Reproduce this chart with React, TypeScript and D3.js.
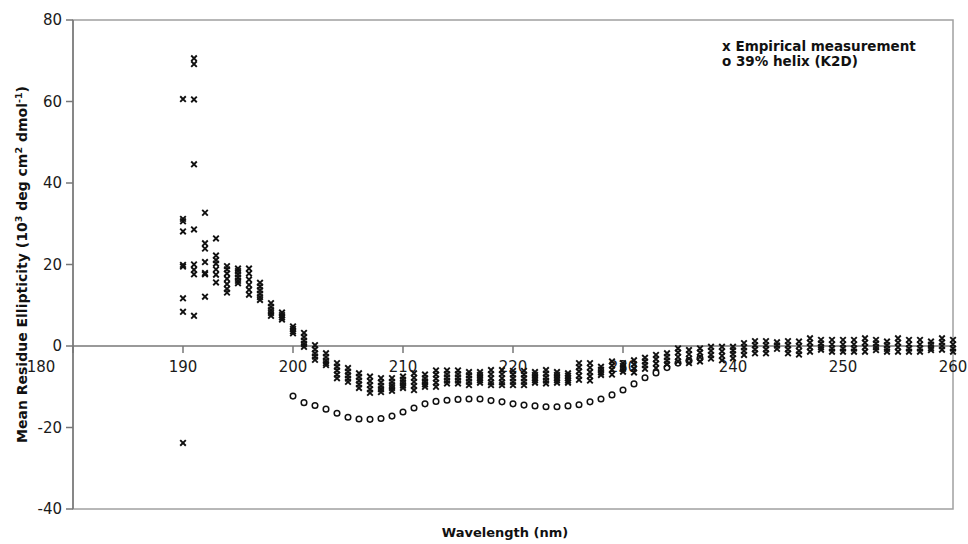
import React from 'react';
import * as d3 from 'd3';

// empirical CD scans: wavelength (nm) -> replicate readings (10^3 deg cm2 dmol-1)
const empirical: [number, number[]][] = [
  [190, [60.6, 31.2, 30.6, 28.1, 19.9, 19.5, 11.7, 8.4, -23.8]],
  [191, [70.6, 69.2, 60.5, 44.6, 28.6, 20.0, 18.7, 17.6, 7.4]],
  [192, [32.7, 25.2, 23.9, 20.6, 17.9, 17.6, 12.1]],
  [193, [26.4, 22.2, 21.1, 20.2, 18.8, 17.5, 15.6]],
  [194, [19.6, 18.8, 17.8, 16.5, 15.2, 14.0, 13.1]],
  [195, [19.0, 18.4, 17.6, 16.8, 16.0, 15.4]],
  [196, [19.0, 17.8, 16.3, 15.0, 13.8, 12.6]],
  [197, [15.5, 14.6, 13.7, 12.8, 12.0, 11.3]],
  [198, [10.5, 9.6, 8.8, 8.1, 7.4]],
  [199, [8.2, 7.6, 7.0, 6.5]],
  [200, [4.8, 4.2, 3.6, 3.1]],
  [201, [3.2, 2.2, 1.3, 0.5, -0.2]],
  [202, [0.2, -0.8, -1.8, -2.6, -3.4]],
  [203, [-1.8, -2.7, -3.6, -4.2, -4.7]],
  [204, [-4.2, -5.1, -6.0, -7.0, -7.9]],
  [205, [-5.4, -6.3, -7.2, -8.0, -8.8]],
  [206, [-6.7, -7.6, -8.5, -9.4, -10.3]],
  [207, [-7.5, -8.6, -9.6, -10.6, -11.5]],
  [208, [-7.9, -8.9, -9.8, -10.6, -11.3]],
  [209, [-7.9, -8.8, -9.6, -10.3, -11.0]],
  [210, [-7.5, -8.3, -9.0, -9.7, -10.3]],
  [211, [-6.7, -7.8, -8.8, -9.8, -10.8]],
  [212, [-7.0, -7.9, -8.7, -9.4, -10.0]],
  [213, [-6.0, -7.0, -8.0, -9.0, -10.0]],
  [214, [-6.0, -6.9, -7.7, -8.5, -9.2]],
  [215, [-6.0, -6.9, -7.7, -8.5, -9.2]],
  [216, [-6.4, -7.2, -8.0, -8.8, -9.6]],
  [217, [-6.4, -7.1, -7.8, -8.4, -9.0]],
  [218, [-5.9, -6.9, -7.9, -8.9, -9.6]],
  [219, [-5.9, -6.9, -7.9, -8.9, -9.6]],
  [220, [-6.1, -7.0, -7.9, -8.8, -9.6]],
  [221, [-6.1, -7.0, -7.9, -8.8, -9.6]],
  [222, [-6.4, -7.1, -7.8, -8.4, -9.0]],
  [223, [-5.9, -6.8, -7.7, -8.5, -9.2]],
  [224, [-6.4, -7.1, -7.8, -8.4, -9.0]],
  [225, [-6.7, -7.3, -7.9, -8.5, -9.0]],
  [226, [-4.2, -5.2, -6.2, -7.3, -8.3]],
  [227, [-4.2, -5.3, -6.4, -7.4, -8.5]],
  [228, [-5.1, -5.8, -6.5, -7.1]],
  [229, [-3.8, -4.8, -5.8, -7.0]],
  [230, [-4.2, -4.9, -5.6, -6.3]],
  [231, [-3.5, -4.5, -5.5, -6.5]],
  [232, [-2.9, -3.8, -4.7, -5.6]],
  [233, [-2.2, -3.2, -4.3, -5.4]],
  [234, [-1.8, -2.7, -3.6, -4.5]],
  [235, [-0.6, -1.6, -2.7, -3.8]],
  [236, [-1.0, -2.0, -3.1, -4.2]],
  [237, [-0.6, -1.6, -2.7, -3.8]],
  [238, [-0.2, -1.2, -2.2, -3.1]],
  [239, [-0.2, -1.3, -2.4, -3.5]],
  [240, [-0.2, -1.1, -2.0, -3.0]],
  [241, [0.7, -0.3, -1.2, -2.2]],
  [242, [1.2, 0.2, -0.8, -1.8]],
  [243, [1.2, 0.2, -0.8, -1.8]],
  [244, [0.9, 0.1, -0.7]],
  [245, [1.2, 0.2, -0.8, -1.8]],
  [246, [1.1, 0.0, -1.2, -2.1]],
  [247, [1.9, 0.8, -0.3, -1.4]],
  [248, [1.5, 0.6, -0.3, -0.9]],
  [249, [1.5, 0.4, -0.6, -1.4]],
  [250, [1.5, 0.4, -0.6, -1.4]],
  [251, [1.5, 0.4, -0.6, -1.4]],
  [252, [1.9, 0.8, -0.3, -1.4]],
  [253, [1.5, 0.6, -0.3, -1.0]],
  [254, [1.1, 0.2, -0.7, -1.4]],
  [255, [1.9, 0.8, -0.3, -1.4]],
  [256, [1.5, 0.4, -0.6, -1.4]],
  [257, [1.5, 0.4, -0.6, -1.4]],
  [258, [1.1, 0.3, -0.5, -1.0]],
  [259, [1.9, 0.9, 0.0, -0.9]],
  [260, [1.5, 0.4, -0.6, -1.4]],
];

// K2D fit, 39% helix
const helix: [number, number][] = [
  [200, -12.3], [201, -13.9], [202, -14.6], [203, -15.5], [204, -16.5],
  [205, -17.5], [206, -17.9], [207, -18.0], [208, -17.8], [209, -17.2],
  [210, -16.2], [211, -15.2], [212, -14.2], [213, -13.6], [214, -13.3],
  [215, -13.1], [216, -13.0], [217, -13.0], [218, -13.4], [219, -13.7],
  [220, -14.2], [221, -14.5], [222, -14.7], [223, -14.9], [224, -14.9],
  [225, -14.7], [226, -14.4], [227, -13.7], [228, -13.0], [229, -12.0],
  [230, -10.8], [231, -9.3], [232, -7.8], [233, -6.6], [234, -5.3],
  [235, -4.2], [236, -3.6], [237, -3.0],
];

const xTicks = [180, 190, 200, 210, 220, 230, 240, 250, 260];
const yTicks = [80, 60, 40, 20, 0, -20, -40];
const legendLabels = ['x Empirical measurement', 'o 39% helix (K2D)'];

const FONT = '"DejaVu Sans", Verdana, sans-serif';

const App: React.FC = () => {
  const left = 73, right = 953, top = 20, bottom = 509;
  const x = d3.scaleLinear().domain([180, 260]).range([left, right]);
  const y = d3.scaleLinear().domain([-40, 80]).range([bottom, top]);
  const y0 = y(0);

  const crosses = empirical.flatMap(([nm, vals]) => vals.map((v) => [nm, v] as [number, number]));

  return (
    <svg width={968} height={544} style={{ position: 'absolute', left: 0, top: 0, background: '#fff' }} fontFamily={FONT}>
      {/* plot frame */}
      <rect x={left} y={top} width={right - left} height={bottom - top} fill="none" stroke="#a0a0a0" strokeWidth={1.5} />
      <line x1={left} x2={left} y1={top} y2={bottom} stroke="#777" strokeWidth={1.5} />

      {/* y ticks */}
      {yTicks.map((t) => (
        <g key={t}>
          <line x1={left - 7} x2={left} y1={y(t)} y2={y(t)} stroke="#777" strokeWidth={1.5} />
          <text x={62} y={y(t)} dy="0.36em" textAnchor="end" fontSize={15} fill="#1a1a1a">{t}</text>
        </g>
      ))}

      {/* x axis at zero */}
      <line x1={left} x2={right} y1={y0} y2={y0} stroke="#777" strokeWidth={1.5} />
      {xTicks.map((t) => (
        <g key={t}>
          <line x1={x(t)} x2={x(t)} y1={y0} y2={y0 + 7} stroke="#777" strokeWidth={1.5} />
          <text x={t === 180 ? 41 : x(t)} y={y0 + 21} dy="0.36em" textAnchor="middle" fontSize={15} fill="#1a1a1a">{t}</text>
        </g>
      ))}

      {/* helix fit circles */}
      {helix.map(([nm, v]) => (
        <circle key={'o' + nm} cx={x(nm)} cy={y(v)} r={2.8} fill="#fff" stroke="#111" strokeWidth={1.5} />
      ))}

      {/* empirical crosses */}
      {crosses.map(([nm, v], i) => (
        <path key={'x' + i} transform={`translate(${x(nm)},${y(v)})`} d="M-2.8,-2.8L2.8,2.8M-2.8,2.8L2.8,-2.8" stroke="#111" strokeWidth={1.9} fill="none" />
      ))}

      {/* legend */}
      {legendLabels.map((l, i) => (
        <text key={l} x={722} y={51 + i * 15} fontSize={13.5} fontWeight="bold" fill="#111">{l}</text>
      ))}

      {/* axis titles */}
      <text x={505} y={537} textAnchor="middle" fontSize={13} fontWeight="bold" fill="#111">Wavelength (nm)</text>
      <text transform={`translate(27,${(top + bottom) / 2}) rotate(-90)`} textAnchor="middle" fontSize={14} fontWeight="bold" fill="#111">
        Mean Residue Ellipticity (10<tspan dy="-5" fontSize={9.5}>3</tspan>
        <tspan dy="5"> deg cm</tspan><tspan dy="-5" fontSize={9.5}>2</tspan>
        <tspan dy="5"> dmol</tspan><tspan dy="-5" fontSize={9.5}>-1</tspan>
        <tspan dy="5">)</tspan>
      </text>
    </svg>
  );
};

export default App;
